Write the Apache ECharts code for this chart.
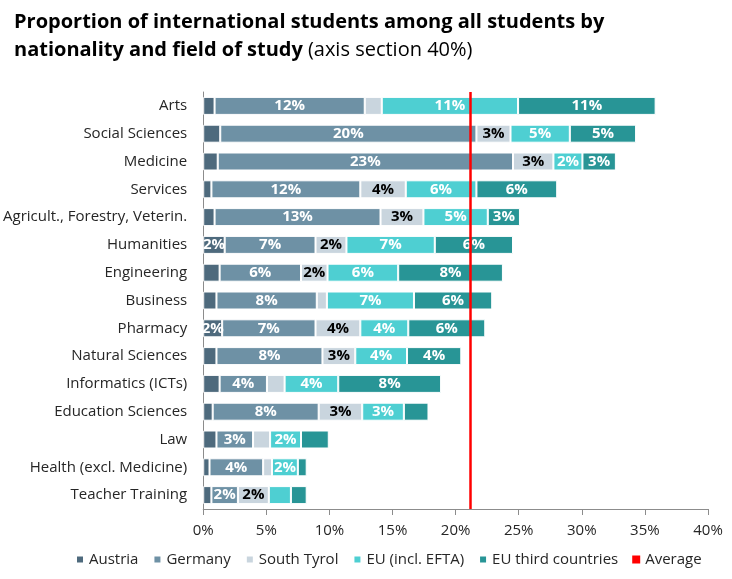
<!DOCTYPE html>
<html lang="en" style="height: 100%">
<head>
    <meta charset="UTF-8">
    <title>International students by field of study</title>
    <script type="text/javascript" src="https://cdn.jsdelivr.net/npm/echarts@6/dist/echarts.min.js"></script>
</head>
<body style="height: 100%; margin: 0; background: #fff">
<div id="container" style="width: 732px; height: 579px"></div>
<script type="text/javascript">
    // values in percent
    var fields = ['Arts', 'Social Sciences', 'Medicine', 'Services', 'Agricult., Forestry, Veterin.', 'Humanities',
        'Engineering', 'Business', 'Pharmacy', 'Natural Sciences', 'Informatics (ICTs)', 'Education Sciences',
        'Law', 'Health (excl. Medicine)', 'Teacher Training'];
    var austria = [0.9, 1.35, 1.15, 0.65, 0.9, 1.7, 1.3, 1.05, 1.5, 1.05, 1.3, 0.75, 1.05, 0.5, 0.65];
    var germany = [11.9, 20.3, 23.4, 11.8, 13.15, 7.2, 6.45, 7.95, 7.4, 8.4, 3.75, 8.4, 2.9, 4.25, 2.1];
    var southTyrol = [1.35, 2.7, 3.2, 3.6, 3.4, 2.45, 2.1, 0.8, 3.55, 2.6, 1.4, 3.45, 1.35, 0.7, 2.45];
    var euEfta = [10.8, 4.7, 2.3, 5.6, 5.1, 7.0, 5.6, 6.9, 3.8, 4.1, 4.25, 3.3, 2.45, 2.05, 1.75];
    var thirdCountries = [10.9, 5.25, 2.65, 6.4, 2.55, 6.2, 8.3, 6.2, 6.1, 4.3, 8.15, 1.95, 2.2, 0.7, 1.25];
    var averageValue = 21.2;
    // segments whose label was left off in the original
    var unlabeled = ['Education Sciences|EU third countries', 'Law|EU third countries', 'Teacher Training|EU (incl. EFTA)'];

    var font = "'Open Sans', sans-serif";
    var myChart = echarts.init(document.getElementById('container'));

    function barSeries(name, values, color, labelColor) {
        return {
            name: name,
            type: 'bar',
            stack: 'total',
            data: values,
            barWidth: 18,
            itemStyle: {color: color, borderColor: '#fff', borderWidth: 1},
            label: {
                show: true,
                color: labelColor,
                fontFamily: font,
                fontWeight: 'bold',
                fontSize: 15,
                formatter: function (p) {
                    if (p.value < 1.5 || unlabeled.indexOf(p.name + '|' + name) >= 0) return '';
                    return Math.round(p.value) + '%';
                }
            }
        };
    }

    myChart.setOption({
        animation: false,
        title: {
            left: 9,
            top: 3,
            text: '{b|Proportion of international students among all students by}\n{b|nationality and field of study} {n|(axis section 40%)}',
            textStyle: {
                rich: {
                    b: {fontFamily: font, fontWeight: 'bold', fontSize: 20, color: '#000', lineHeight: 28},
                    n: {fontFamily: font, fontWeight: 'normal', fontSize: 20, color: '#000', lineHeight: 28}
                }
            }
        },
        legend: {
            left: 70,
            bottom: 7,
            icon: 'rect',
            itemWidth: 8,
            itemHeight: 8,
            itemGap: 14,
            textStyle: {fontFamily: font, fontSize: 15, color: '#262626'},
            data: ['Austria', 'Germany', 'South Tyrol', 'EU (incl. EFTA)', 'EU third countries', 'Average']
        },
        grid: {left: 201, right: 24, top: 92, bottom: 70, containLabel: false},
        xAxis: {
            type: 'value',
            min: 0,
            max: 40,
            interval: 5,
            splitLine: {show: false},
            axisLine: {show: true, lineStyle: {color: '#8c8c8c'}},
            axisTick: {show: true, length: 6, lineStyle: {color: '#8c8c8c'}},
            axisLabel: {formatter: '{value}%', fontFamily: font, fontSize: 15, color: '#262626', margin: 14}
        },
        yAxis: {
            type: 'category',
            inverse: true,
            data: fields,
            axisLine: {show: true, lineStyle: {color: '#8c8c8c'}},
            axisTick: {show: false},
            axisLabel: {fontFamily: font, fontSize: 15, color: '#262626', margin: 16}
        },
        series: [
            barSeries('Austria', austria, '#4e6a7d', '#fff'),
            barSeries('Germany', germany, '#6e91a5', '#fff'),
            barSeries('South Tyrol', southTyrol, '#c9d5de', '#000'),
            barSeries('EU (incl. EFTA)', euEfta, '#4ecfd2', '#fff'),
            barSeries('EU third countries', thirdCountries, '#289596', '#fff'),
            {
                name: 'Average',
                type: 'line',
                data: [],
                itemStyle: {color: '#ff0000'},
                markLine: {
                    silent: true,
                    symbol: 'none',
                    label: {show: false},
                    lineStyle: {color: '#ff0000', width: 2.5, type: 'solid'},
                    data: [{xAxis: averageValue}]
                }
            }
        ]
    });
</script>
</body>
</html>
